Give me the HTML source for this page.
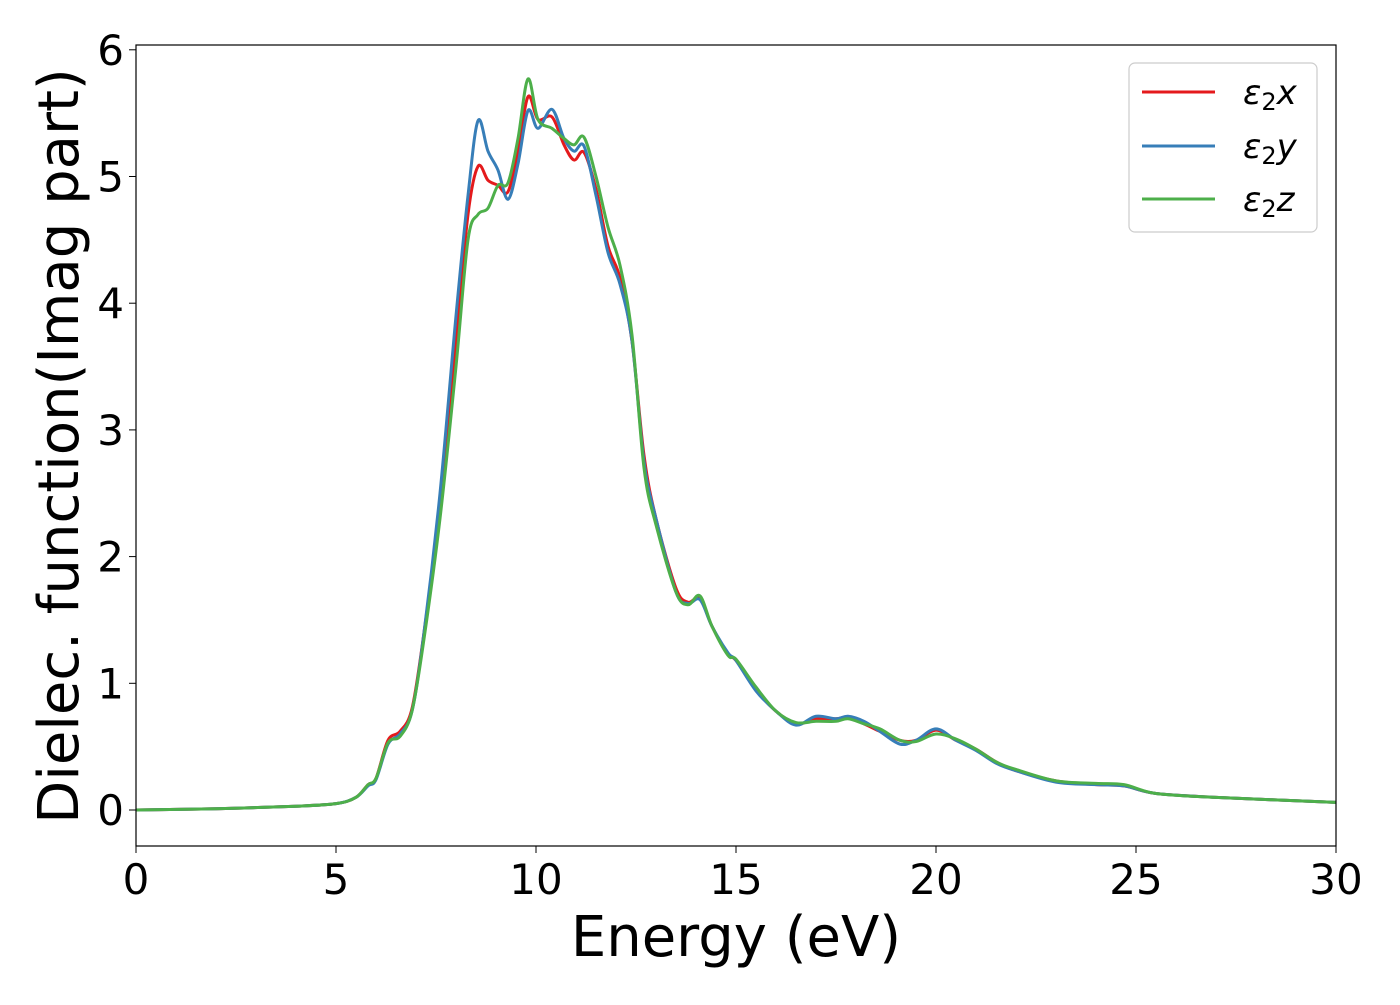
<!DOCTYPE html>
<html><head><meta charset="utf-8"><style>
body{margin:0;background:#fff}
svg{font-family:"DejaVu Sans","Liberation Sans",sans-serif}
</style></head><body>
<svg id="chart" width="1400" height="1000" xmlns="http://www.w3.org/2000/svg">
<rect width="1400" height="1000" fill="#fff"/>
<g id="plot"></g>
<rect x="136" y="45" width="1200" height="801" fill="none" stroke="#000" stroke-width="1.2"/>
<g id="xt"></g><g id="yt"></g>
<text x="736" y="956" font-size="56" text-anchor="middle">Energy (eV)</text>
<text transform="translate(78,446) rotate(-90)" font-size="56" text-anchor="middle">Dielec. function(Imag part)</text>
<g>
<rect x="1129" y="63" width="188" height="169" rx="6" fill="#fff" stroke="#ccc" stroke-width="1.2"/>
<line x1="1142" y1="92" x2="1215" y2="92" stroke="#e41a1c" stroke-width="3"/>
<text x="1243" y="104" font-size="34" font-style="italic">ε<tspan font-size="24" dy="6" font-style="normal">2</tspan><tspan dy="-6">x</tspan></text>
<line x1="1142" y1="146" x2="1215" y2="146" stroke="#377eb8" stroke-width="3"/>
<text x="1243" y="158" font-size="34" font-style="italic">ε<tspan font-size="24" dy="6" font-style="normal">2</tspan><tspan dy="-6">y</tspan></text>
<line x1="1142" y1="199" x2="1215" y2="199" stroke="#4daf4a" stroke-width="3"/>
<text x="1243" y="211" font-size="34" font-style="italic">ε<tspan font-size="24" dy="6" font-style="normal">2</tspan><tspan dy="-6">z</tspan></text>
</g>
</svg>
<script>
const energy=[0,2,4,5,5.5,5.8,6.0,6.3,6.6,6.9,7.2,7.6,8.0,8.3,8.55,8.8,9.05,9.3,9.55,9.8,10.05,10.4,10.7,10.95,11.2,11.5,11.8,12.1,12.4,12.7,13.0,13.5,13.8,14.1,14.4,14.8,15.0,15.5,16.0,16.5,17.0,17.5,17.8,18.2,18.6,19.1,19.5,20.0,20.5,21.0,21.5,22.0,23.0,24.0,24.7,25.5,27.0,30];
const epsX=[0,0.01,0.03,0.05,0.1,0.2,0.25,0.55,0.62,0.8,1.4,2.4,3.7,4.7,5.08,4.97,4.93,4.88,5.2,5.63,5.45,5.47,5.25,5.13,5.19,4.9,4.45,4.2,3.7,2.8,2.3,1.75,1.64,1.67,1.45,1.23,1.18,0.95,0.78,0.68,0.72,0.72,0.73,0.68,0.62,0.55,0.55,0.63,0.55,0.48,0.38,0.31,0.23,0.2,0.19,0.13,0.1,0.06];
const epsY=[0,0.01,0.03,0.05,0.1,0.19,0.24,0.52,0.6,0.78,1.4,2.5,3.9,4.85,5.44,5.2,5.05,4.82,5.1,5.52,5.38,5.53,5.3,5.2,5.24,4.85,4.4,4.15,3.7,2.75,2.3,1.72,1.63,1.66,1.45,1.24,1.18,0.94,0.78,0.67,0.74,0.72,0.74,0.7,0.62,0.52,0.55,0.64,0.55,0.47,0.37,0.31,0.22,0.2,0.19,0.13,0.1,0.06];
const epsZ=[0,0.01,0.03,0.05,0.1,0.2,0.25,0.53,0.58,0.78,1.35,2.3,3.5,4.5,4.7,4.75,4.93,4.95,5.3,5.77,5.45,5.38,5.3,5.25,5.31,5.0,4.6,4.3,3.75,2.7,2.25,1.72,1.62,1.69,1.45,1.22,1.19,0.97,0.78,0.69,0.7,0.7,0.72,0.68,0.64,0.55,0.54,0.6,0.56,0.48,0.38,0.32,0.23,0.21,0.2,0.13,0.1,0.06];
const xTicks=[0,5,10,15,20,25,30];
const yTicks=[0,1,2,3,4,5,6];
const sx=e=>136+e*40, sy=v=>810-v*126.7;
const NS="http://www.w3.org/2000/svg";
function path(vals){
  const p=energy.map((e,i)=>[sx(e),sy(vals[i])]);
  let d=`M${p[0][0]},${p[0][1]}`;
  for(let i=0;i<p.length-1;i++){
    const p0=p[Math.max(0,i-1)],p1=p[i],p2=p[i+1],p3=p[Math.min(p.length-1,i+2)];
    const c1=[p1[0]+(p2[0]-p0[0])/6,p1[1]+(p2[1]-p0[1])/6];
    const c2=[p2[0]-(p3[0]-p1[0])/6,p2[1]-(p3[1]-p1[1])/6];
    d+=`C${c1[0]},${c1[1]} ${c2[0]},${c2[1]} ${p2[0]},${p2[1]}`;
  }
  return d;
}
const plot=document.getElementById('plot');
[[epsX,'#e41a1c','series-eps2-x'],[epsY,'#377eb8','series-eps2-y'],[epsZ,'#4daf4a','series-eps2-z']].forEach(s=>{
  const el=document.createElementNS(NS,'path');
  el.setAttribute('d',path(s[0]));el.setAttribute('fill','none');el.setAttribute('stroke',s[1]);el.setAttribute('stroke-width','3');
  
  
  plot.appendChild(el);
});
const xt=document.getElementById('xt'),yt=document.getElementById('yt');
xTicks.forEach(t=>{
  const l=document.createElementNS(NS,'line');
  l.setAttribute('x1',sx(t));l.setAttribute('x2',sx(t));l.setAttribute('y1',846);l.setAttribute('y2',853);l.setAttribute('stroke','#000');
  
  
  xt.appendChild(l);
  const tx=document.createElementNS(NS,'text');
  tx.setAttribute('x',sx(t));tx.setAttribute('y',894);tx.setAttribute('font-size','42');tx.setAttribute('text-anchor','middle');tx.textContent=t;
  
  
  xt.appendChild(tx);
});
yTicks.forEach(t=>{
  const l=document.createElementNS(NS,'line');
  l.setAttribute('x1',129);l.setAttribute('x2',136);l.setAttribute('y1',sy(t));l.setAttribute('y2',sy(t));l.setAttribute('stroke','#000');
  
  
  yt.appendChild(l);
  const tx=document.createElementNS(NS,'text');
  tx.setAttribute('x',124);tx.setAttribute('y',sy(t)+15);tx.setAttribute('font-size','42');tx.setAttribute('text-anchor','end');tx.textContent=t;
  
  
  yt.appendChild(tx);
});
</script>
</body></html>
